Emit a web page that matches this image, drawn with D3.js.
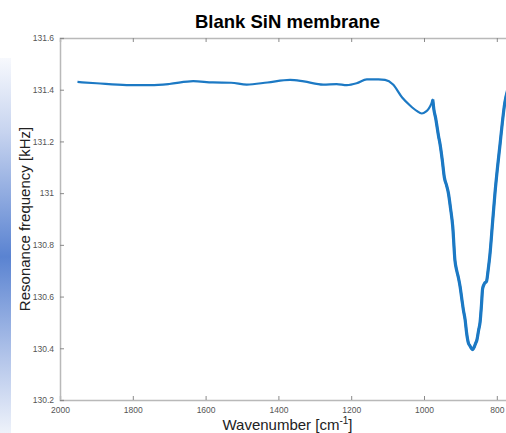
<!DOCTYPE html>
<html>
<head>
<meta charset="utf-8">
<script src="https://cdn.jsdelivr.net/npm/d3@7"></script>
<style>
  html, body { margin: 0; padding: 0; background: #fff; }
  svg { display: block; font-family: "Liberation Sans", Arial, sans-serif; }
</style>
</head>
<body>
<svg id="chart" width="506" height="433"></svg>
<script>
// ---- data ----
const wavenumber = [1952, 1900, 1817, 1750, 1700, 1634, 1580, 1530, 1487, 1430, 1368, 1330, 1277, 1240, 1212, 1185, 1157, 1125, 1107, 1085, 1060, 1039, 1020, 1006, 995, 988, 980, 976, 973, 968, 960, 956, 950, 944, 938, 933, 927, 921, 915, 910, 905, 901, 896, 892, 887, 883, 878, 874, 870, 866, 862, 858, 855, 850, 846, 842, 839, 834, 828, 824, 819, 812, 805, 798, 791, 785, 778, 770];
const frequency = [131.430, 131.425, 131.418, 131.418, 131.422, 131.433, 131.428, 131.427, 131.420, 131.428, 131.438, 131.432, 131.420, 131.422, 131.418, 131.425, 131.440, 131.440, 131.438, 131.420, 131.370, 131.340, 131.318, 131.308, 131.315, 131.325, 131.345, 131.362, 131.325, 131.290, 131.22, 131.19, 131.13, 131.06, 131.03, 131.00, 130.94, 130.87, 130.74, 130.70, 130.67, 130.64, 130.59, 130.55, 130.51, 130.46, 130.42, 130.41, 130.40, 130.395, 130.405, 130.42, 130.43, 130.47, 130.50, 130.57, 130.63, 130.65, 130.66, 130.70, 130.76, 130.88, 131.00, 131.10, 131.19, 131.27, 131.35, 131.40];
const xTicks = [2000, 1800, 1600, 1400, 1200, 1000, 800];
const yTicks = [130.2, 130.4, 130.6, 130.8, 131, 131.2, 131.4, 131.6];
const titleText = "Blank SiN membrane";
const yLabelText = "Resonance frequency [kHz]";

// ---- layout ----
const svg = d3.select("#chart");
const mLeft = 60, mRight = 515, mTop = 38, mBottom = 400;

const x = d3.scaleLinear().domain([2000, 750]).range([mLeft, mRight]);
const y = d3.scaleLinear().domain([130.2, 131.6]).range([mBottom, mTop]);

// left gradient strip
const defs = svg.append("defs");
const grad = defs.append("linearGradient").attr("id", "strip")
  .attr("x1", 0).attr("y1", 0).attr("x2", 0).attr("y2", 1);
[[0, "#f7f9fd"], [0.2, "#c6d3ef"], [0.53, "#5a83d1"], [0.8, "#b3c5ea"], [1, "#eef2fa"]]
  .forEach(([o, c]) => grad.append("stop").attr("offset", o).attr("stop-color", c));
svg.append("rect").attr("x", 0).attr("y", 58).attr("width", 11).attr("height", 375)
  .attr("fill", "url(#strip)");

defs.append("clipPath").attr("id", "clip").append("rect")
  .attr("x", mLeft).attr("y", mTop - 5).attr("width", mRight - mLeft).attr("height", mBottom - mTop + 10);

const fmt = v => d3.format(".1f")(v).replace(/\.0$/, "");

// axes
const axisColor = "#b9b9b9";
const tickColor = "#8a8a8a";
const labelColor = "#555";

const xBottom = svg.append("g").attr("transform", `translate(0,${mBottom})`)
  .call(d3.axisBottom(x).tickValues(xTicks).tickSize(-4).tickPadding(5).tickFormat(d3.format("d")));
const xTop = svg.append("g").attr("transform", `translate(0,${mTop})`)
  .call(d3.axisTop(x).tickValues(xTicks).tickSize(-4).tickFormat(""));
const yLeft = svg.append("g").attr("transform", `translate(${mLeft},0)`)
  .call(d3.axisLeft(y).tickValues(yTicks).tickSize(-4).tickPadding(6).tickFormat(fmt));

[xBottom, xTop, yLeft].forEach(g => {
  g.select(".domain").attr("stroke", axisColor).attr("stroke-width", 1.5);
  g.selectAll(".tick line").attr("stroke", tickColor).attr("stroke-width", 1);
  g.selectAll(".tick text").attr("fill", labelColor).attr("font-size", 8.5)
    .attr("font-family", "Liberation Sans, Arial, sans-serif");
});
xBottom.selectAll(".tick text").attr("dy", "0.9em");

// line
const line = d3.line()
  .x((d, i) => x(wavenumber[i]))
  .y((d, i) => y(frequency[i]))
  .curve(d3.curveMonotoneX);

const lineColor = "#1c79c4";
svg.append("path")
  .datum(frequency)
  .attr("clip-path", "url(#clip)")
  .attr("fill", "none")
  .attr("stroke", lineColor)
  .attr("stroke-width", 2.2)
  .attr("stroke-linejoin", "round")
  .attr("d", line);

// noisier dip region drawn slightly thicker (same data, subset)
const dipStart = wavenumber.indexOf(976);
const dipLine = d3.line()
  .x(d => x(d[0]))
  .y(d => y(d[1]))
  .curve(d3.curveMonotoneX);
svg.append("path")
  .datum(d3.zip(wavenumber, frequency).slice(dipStart))
  .attr("clip-path", "url(#clip)")
  .attr("fill", "none")
  .attr("stroke", lineColor)
  .attr("stroke-width", 3.2)
  .attr("stroke-linejoin", "round")
  .attr("d", dipLine);

// title & labels
const cx = (mLeft + mRight) / 2;
svg.append("text").attr("x", cx).attr("y", 28).attr("text-anchor", "middle")
  .attr("font-size", 18.5).attr("font-weight", "bold").attr("fill", "#000").text(titleText);

const xl = svg.append("text").attr("x", cx).attr("y", 430).attr("text-anchor", "middle")
  .attr("font-size", 15).attr("fill", "#222");
xl.append("tspan").text("Wavenumber [cm");
xl.append("tspan").attr("font-size", 10).attr("dy", -6).text("-1");
xl.append("tspan").attr("dy", 6).text("]");

svg.append("text").attr("transform", `translate(30,${(mTop + mBottom) / 2}) rotate(-90)`)
  .attr("text-anchor", "middle").attr("font-size", 15).attr("fill", "#222").text(yLabelText);
</script>
</body>
</html>
